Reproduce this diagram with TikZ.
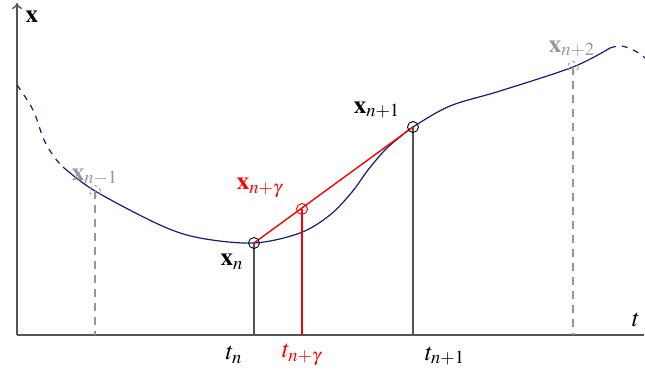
\documentclass[tikz,border=0pt]{standalone}
\usepackage{mathptmx}
\usepackage{tikz}
\usetikzlibrary{arrows.meta, positioning, calc}
\usepackage{xcolor}
\usepackage{amsmath}
\definecolor{curvecolor}{RGB}{20,30,110}
\definecolor{axiscolor}{RGB}{85,85,85}
\definecolor{ghostcolor}{RGB}{150,150,150}

\begin{document}
\begin{tikzpicture}[
    x=0.5pt, y=-0.5pt,
    font=\fontsize{12.5}{14}\selectfont,
    axis/.style={draw=axiscolor, line width=0.7pt},
    curve/.style={draw=curvecolor, line width=0.6pt},
    dropline/.style={draw=axiscolor, line width=0.7pt},
    redline/.style={draw=red, line width=0.7pt},
    ghostline/.style={draw=ghostcolor, line width=0.6pt, dash pattern=on 4pt off 3pt},
    point/.style={circle, draw, inner sep=0pt, minimum size=5.5pt, line width=0.45pt},
    ghostpoint/.style={point, draw=ghostcolor, dash pattern=on 1.5pt off 1.5pt},
    lbl/.style={inner sep=1pt}
]
    \useasboundingbox (0,0) rectangle (645,374);

    % Axes
    \coordinate (origin) at (17,335);
    \coordinate (ytop) at (17,3);
    \coordinate (xend) at (644,335);
    \draw[axis, -{To[length=3pt,width=5pt]}] (origin) -- (ytop);
    \draw[axis] (origin) -- (xend);
    \node[lbl] (xlab) at (32,17) {$\mathbf{x}$};
    \node[lbl] (tlab) at (636,320) {$t$};

    % Sample points
    \coordinate (pm1) at (95,191);
    \coordinate (p0) at (254,243);
    \coordinate (p1) at (413,127);
    \coordinate (p2) at (573,67);
    \coordinate (pg) at (302,209);

    % The curve
    \draw[curve, dashed] plot[smooth, tension=0.6] coordinates {(17,85) (33,110) (44,140) (55,158) (63,167)};
    \draw[curve] plot[smooth, tension=0.55] coordinates {(63,167) (pm1) (160,225) (200,238) (p0) (300,233) (330,215) (352,192) (368,170) (385,150) (400,137) (p1) (450,106) (500,91) (p2) (610,48)};
    \draw[curve, dashed] plot[smooth, tension=0.6] coordinates {(610,48) (622,46) (637,52) (645,58)};

    % Drop lines to the t axis
    \draw[ghostline] (pm1) -- (pm1 |- origin);
    \draw[ghostline] (p2) -- (p2 |- origin);
    \draw[dropline] (p0) -- (p0 |- origin);
    \draw[dropline] (p1) -- (p1 |- origin);
    \draw[redline] (p0) -- (p1);
    \draw[redline] (pg) -- (pg |- origin);

    % Markers
    \node[ghostpoint] (cm1) at (pm1) {};
    \node[ghostpoint] (c2) at (p2) {};
    \node[point] (c0) at (p0) {};
    \node[point] (c1) at (p1) {};
    \node[point, draw=red] (cg) at (pg) {};

    % Labels
    \node[lbl, text=ghostcolor] (lm1) at (95,177) {$\mathbf{x}_{n-1}$};
    \node[lbl, text=ghostcolor] (l2) at (572,49) {$\mathbf{x}_{n+2}$};
    \node[lbl] (l0) at (232,262) {$\mathbf{x}_{n}$};
    \node[lbl] (l1) at (377,110) {$\mathbf{x}_{n+1}$};
    \node[lbl, text=red] (lg) at (260,188) {$\mathbf{x}_{n+\gamma}$};
    \node[lbl] (t0) at (234,355) {$t_n$};
    \node[lbl, text=red] (tg) at (302,355) {$t_{n+\gamma}$};
    \node[lbl] (t1) at (445,356) {$t_{n+1}$};
\end{tikzpicture}
\end{document}
